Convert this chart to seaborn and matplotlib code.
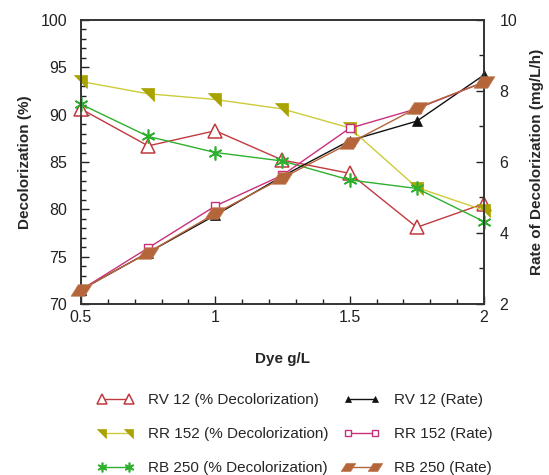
import numpy as np
import pandas as pd
import matplotlib
matplotlib.use("Agg")
import matplotlib.pyplot as plt
from matplotlib.ticker import MultipleLocator, FixedLocator
from matplotlib.path import Path
import seaborn as sns

dye = [0.5, 0.75, 1.0, 1.25, 1.5, 1.75, 2.0]
rv12_pct = [90.6, 86.7, 88.3, 85.2, 83.8, 78.1, 80.6]
rr152_pct = [93.5, 92.2, 91.6, 90.6, 88.6, 82.3, 79.9]
rb250_pct = [91.1, 87.7, 86.0, 85.1, 83.1, 82.2, 78.7]
rv12_rate = [2.4, 3.45, 4.5, 5.6, 6.6, 7.15, 8.45]
rr152_rate = [2.4, 3.58, 4.76, 5.63, 6.95, 7.5, 8.25]
rb250_rate = [2.4, 3.45, 4.55, 5.55, 6.53, 7.52, 8.25]

sns.set_style("ticks")
plt.rcParams['font.family'] = ['Liberation Sans', 'DejaVu Sans']
plt.rcParams['font.size'] = 11

fig = plt.figure(figsize=(5.49, 4.75), dpi=100)
ax = fig.add_axes([0.1475, 0.36, 0.7341, 0.598])
ax2 = ax.twinx()

para = Path([(-1, -0.55), (0.3, -0.55), (1, 0.55), (-0.3, 0.55), (-1, -0.55)],
            [Path.MOVETO, Path.LINETO, Path.LINETO, Path.LINETO, Path.CLOSEPOLY])
wedge = Path([(-1, 0.8), (0.8, 0.8), (0.8, -1), (-1, 0.8)],
             [Path.MOVETO, Path.LINETO, Path.LINETO, Path.CLOSEPOLY])

def draw(a, y, label, color, marker, ms, mfc, mec, mew=1.0, z=2):
    sns.lineplot(x=dye, y=y, ax=a, color=color, marker=marker, markersize=ms,
                 markerfacecolor=mfc, markeredgecolor=mec, markeredgewidth=mew,
                 linewidth=1.0, label=label, clip_on=False, zorder=z, legend=False)
    return a.get_lines()[-1]

h1 = draw(ax, rv12_pct, "RV 12 (% Decolorization)", "#c0393f", "^", 10, "white", "#c0393f", 1.1, 3)
h2 = draw(ax, rr152_pct, "RR 152 (% Decolorization)", "#cccc3a", wedge, 10, "#a9a300", "#a9a300", 0.5, 3)
h3 = draw(ax, rb250_pct, "RB 250 (% Decolorization)", "#2eb02e", (6, 2, 0), 10, "#2eb02e", "#2eb02e", 1.2, 3)
h4 = draw(ax2, rv12_rate, "RV 12 (Rate)", "#111111", "^", 7, "#111111", "#111111", 0.5, 2)
h5 = draw(ax2, rr152_rate, "RR 152 (Rate)", "#c8307a", "s", 6, "white", "#c8307a", 1.0, 3)
h6 = draw(ax2, rb250_rate, "RB 250 (Rate)", "#b5653a", para, 15, "#b5653a", "#c07a50", 0.5, 4)

for a in (ax, ax2):
    lg = a.get_legend()
    if lg is not None:
        lg.remove()

ax.set_xlim(0.5, 2.0)
ax.set_ylim(70, 100)
ax2.set_ylim(2, 10)
ax.xaxis.set_major_locator(FixedLocator([0.5, 1.0, 1.5, 2.0]))
ax.set_xticklabels(["0.5", "1", "1.5", "2"])
ax.xaxis.set_minor_locator(MultipleLocator(0.1))
ax.yaxis.set_major_locator(MultipleLocator(5))
ax.yaxis.set_minor_locator(MultipleLocator(1))
ax2.yaxis.set_major_locator(MultipleLocator(2))
ax2.yaxis.set_minor_locator(MultipleLocator(1))

ax.tick_params(axis='both', which='both', direction='in', labelsize=11.5, colors='#222222')
ax.tick_params(which='major', length=6, width=1)
ax.tick_params(which='minor', length=3.5, width=1)
ax.tick_params(axis='y', which='major', pad=10)
ax.tick_params(axis='x', which='major', pad=4)
ax.tick_params(top=False, which='both')
ax2.tick_params(axis='y', which='both', direction='in', labelsize=11.5, colors='#222222')
ax2.tick_params(which='major', length=6, width=1, pad=11)
ax2.tick_params(which='minor', length=3.5, width=1)

for a in (ax, ax2):
    for s in a.spines.values():
        s.set_color('#333333')
        s.set_linewidth(1.2)

ax.set_xlabel("Dye g/L", fontweight='bold', fontsize=11, labelpad=20)
ax.set_ylabel("Decolorization (%)", fontweight='bold', fontsize=11, labelpad=6)
ax2.set_ylabel("Rate of Decolorization (mg/L/h)", fontweight='bold', fontsize=11, labelpad=9)

handles = [h1, h2, h3, h4, h5, h6]
labels = [h.get_label() for h in handles]
fig.legend(handles, labels, loc='center', bbox_to_anchor=(0.537, 0.086), ncol=2,
           frameon=False, numpoints=2, handlelength=2.4, labelspacing=1.3,
           columnspacing=1.0, handletextpad=0.9, fontsize=11, markerscale=0.7)

fig.savefig("out.png", dpi=100)
